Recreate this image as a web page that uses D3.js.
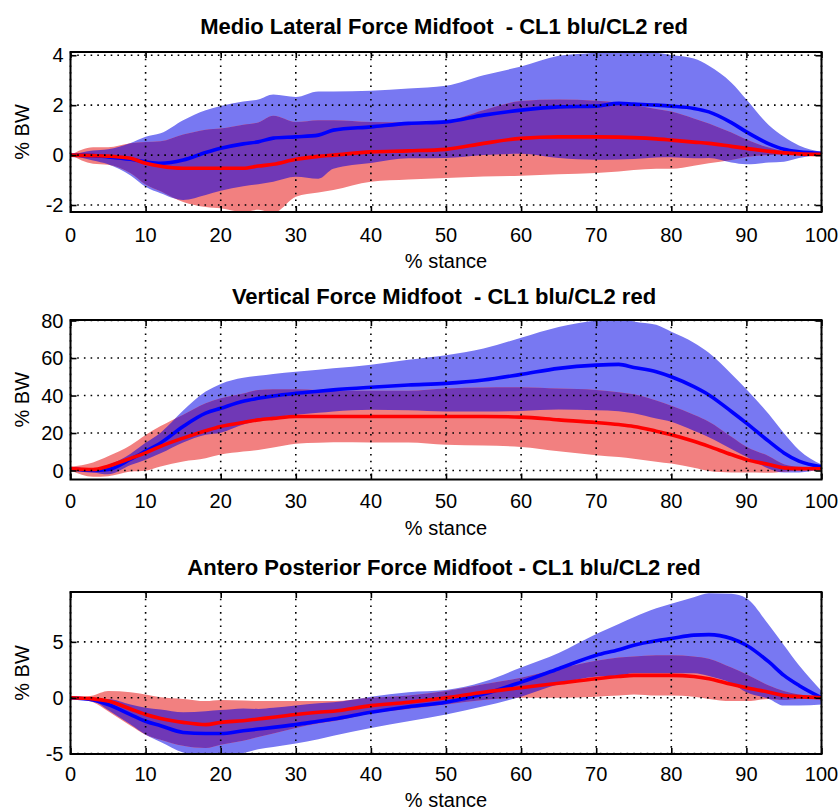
<!DOCTYPE html>
<html>
<head>
<meta charset="utf-8">
<script src="https://cdn.jsdelivr.net/npm/d3@7/dist/d3.min.js"></script>
<style>
  html, body { margin: 0; padding: 0; background: #fff; }
  svg { display: block; }
  text { font-family: "Liberation Sans", Arial, Helvetica, sans-serif; fill: #000; }
  .title { font-weight: bold; font-size: 22px; white-space: pre; }
  .tick { font-size: 20px; }
  .lab { font-size: 20px; white-space: pre; }
</style>
</head>
<body>
<svg id="chart" width="838" height="812"></svg>
<script>
// ---------- data ----------
const stance = [0,3,5,8,10,12,15,18,20,23,25,27,30,33,35,40,45,50,55,60,65,70,73,75,78,80,83,85,88,90,93,95,97,100];
const xTicks = [0,10,20,30,40,50,60,70,80,90,100];

// Medio Lateral
const mlBlueMean = [0,-0.02,-0.07,-0.17,-0.27,-0.33,-0.2,0.1,0.27,0.45,0.53,0.68,0.73,0.8,1.0,1.13,1.27,1.33,1.6,1.8,1.93,1.96,2.07,2.04,2.0,1.96,1.87,1.73,1.3,0.93,0.45,0.23,0.13,0.07];
const mlBlueSd   = [0,0.2,0.3,0.65,1.0,1.2,1.6,1.7,1.7,1.7,1.7,1.75,1.6,1.75,1.55,1.45,1.4,1.45,1.6,1.75,2.05,2.15,2.25,2.2,2.1,2.05,2.0,1.85,1.6,1.3,0.75,0.5,0.25,0.05];
const mlRedMean  = [0,-0.02,-0.04,-0.13,-0.33,-0.45,-0.53,-0.53,-0.53,-0.53,-0.44,-0.37,-0.17,-0.05,0,0.13,0.17,0.23,0.47,0.67,0.73,0.73,0.72,0.7,0.65,0.6,0.52,0.47,0.35,0.27,0.15,0.09,0.05,0.03];
const mlRedSd    = [0,0.33,0.35,0.6,0.85,1.0,1.35,1.55,1.6,1.75,1.75,1.95,1.5,1.45,1.4,1.2,1.15,1.15,1.33,1.5,1.5,1.45,1.38,1.3,1.2,1.15,0.95,0.8,0.55,0.35,0.15,0.07,0.04,0.03];
const mlYTicks = [-2,0,2,4];

// Vertical
const vBlueMean = [1,0,0.5,6,10.3,14.7,23.5,30.6,33.2,37,38.5,39.8,41.2,42.3,43,44.4,45.6,46.5,48.3,51.3,54.5,56.2,56.6,55,52.7,50,44.7,40.3,31.5,25.3,15.5,9.4,5,2];
const vBlueSd   = [0.5,1,2.5,3,4.5,5.5,8.5,11.5,13,12.5,12,11.7,11.5,11.5,11.5,12,13.5,15,16.8,19.5,22,24,25,24.5,25,24,23.5,22.5,20,18,14.5,10.5,6,1.2];
const vRedMean  = [1,0.5,2.3,6.5,9.4,12.9,17.3,21.2,23.5,25.6,27,27.8,28.8,28.8,28.8,28.8,28.8,28.8,28.8,28.5,27,25.6,24.5,23.5,21,19.1,15.6,12.9,8.5,5.8,3.2,1.4,1.0,0.9];
const vRedSd    = [1,3.8,5.3,7,9.5,10.8,12.5,14.7,15,15.5,16,15.5,14.5,14,13.7,13.8,13.8,15,15.5,15.9,16.7,17.4,17.3,17.2,16.3,15.4,14.1,13.1,9.5,6.9,4.4,2.0,1.0,0.5];
const vYTicks = [0,20,40,60,80];

// Antero Posterior
const apBlueMean = [0,-0.2,-0.6,-1.5,-2.1,-2.5,-3.1,-3.2,-3.2,-2.95,-2.8,-2.65,-2.4,-2.1,-1.9,-1.3,-0.8,-0.4,0.33,1.4,2.6,3.8,4.3,4.7,5.1,5.3,5.6,5.65,5.3,4.7,3.2,2.0,1.1,0];
const apBlueSd   = [0,0.1,0.5,0.9,1.2,1.45,1.8,2.0,2.1,2.0,1.8,1.75,1.7,1.6,1.5,1.4,1.3,1.1,1.1,1.3,1.4,1.9,2.3,2.5,2.9,3.1,3.4,3.7,4.0,4.2,3.3,2.7,1.8,0.6];
const apRedMean  = [0,-0.1,-0.3,-1.0,-1.5,-1.85,-2.2,-2.4,-2.2,-2.05,-1.9,-1.75,-1.5,-1.3,-1.2,-0.7,-0.4,0,0.5,0.9,1.3,1.7,1.9,2.0,2.0,2.0,1.9,1.7,1.2,0.9,0.5,0.2,0.1,0];
const apRedSd    = [0,0.3,0.9,1.5,1.8,1.9,2.1,2.1,2.0,1.8,1.6,1.45,1.2,1.0,0.9,0.7,0.6,0.6,0.7,0.9,1.3,1.6,1.7,1.7,1.8,1.8,1.8,1.8,1.5,1.2,0.6,0.4,0.2,0.1];
const apYTicks = [-5,0,5];

const titles = [
  "Medio Lateral Force Midfoot  - CL1 blu/CL2 red",
  "Vertical Force Midfoot  - CL1 blu/CL2 red",
  "Antero Posterior Force Midfoot - CL1 blu/CL2 red"
];
const yLabel = "% BW";
const xLabel = "% stance";

// ---------- layout ----------
const panels = [
  { title: titles[0], yDomain: [-2.28, 4.13], yTicks: mlYTicks, top: 52, bottom: 212,
    blueMean: mlBlueMean, blueSd: mlBlueSd, redMean: mlRedMean, redSd: mlRedSd,
    titleY: 34, tickY: 242, labelY: 268 },
  { title: titles[1], yDomain: [-4.8, 80.3], yTicks: vYTicks, top: 320, bottom: 479.5,
    blueMean: vBlueMean, blueSd: vBlueSd, redMean: vRedMean, redSd: vRedSd,
    titleY: 304, tickY: 508, labelY: 535 },
  { title: titles[2], yDomain: [-5.03, 9.46], yTicks: apYTicks, top: 592, bottom: 754,
    blueMean: apBlueMean, blueSd: apBlueSd, redMean: apRedMean, redSd: apRedSd,
    titleY: 575, tickY: 781, labelY: 807 }
];

const left = 70.5, right = 821.5;
const colors = { blueBand: "#7878f2", redBand: "#f28080", overlap: "#7038b6", blue: "#0000ff", red: "#ff0000" };

const svg = d3.select("#chart");
const x = d3.scaleLinear().domain([0, 100]).range([left, right]);

panels.forEach((p, i) => {
  const y = d3.scaleLinear().domain(p.yDomain).range([p.bottom, p.top]);
  const g = svg.append("g");
  const clipId = "plot" + i, blueClipId = "blue" + i;
  const defs = g.append("defs");
  defs.append("clipPath").attr("id", clipId).append("rect")
    .attr("x", left).attr("y", p.top).attr("width", right - left).attr("height", p.bottom - p.top);

  const rows = stance.map((s, k) => ({
    s, bm: p.blueMean[k], bs: p.blueSd[k], rm: p.redMean[k], rs: p.redSd[k]
  }));
  const curve = d3.curveMonotoneX;
  const blueArea = d3.area().curve(curve).x(d => x(d.s)).y0(d => y(d.bm - d.bs)).y1(d => y(d.bm + d.bs));
  const redArea = d3.area().curve(curve).x(d => x(d.s)).y0(d => y(d.rm - d.rs)).y1(d => y(d.rm + d.rs));
  const blueLine = d3.line().curve(curve).x(d => x(d.s)).y(d => y(d.bm));
  const redLine = d3.line().curve(curve).x(d => x(d.s)).y(d => y(d.rm));

  defs.append("clipPath").attr("id", blueClipId).append("path").attr("d", blueArea(rows));

  const plot = g.append("g").attr("clip-path", `url(#${clipId})`);
  plot.append("path").attr("d", blueArea(rows)).attr("fill", colors.blueBand);
  plot.append("path").attr("d", redArea(rows)).attr("fill", colors.redBand);
  plot.append("path").attr("d", redArea(rows)).attr("fill", colors.overlap).attr("clip-path", `url(#${blueClipId})`);

  // grid
  const grid = g.append("g").attr("stroke", "#000").attr("stroke-width", 1.6).attr("stroke-dasharray", "1.6,5.1");
  xTicks.forEach(t => grid.append("line").attr("x1", x(t)).attr("x2", x(t)).attr("y1", p.top).attr("y2", p.bottom));
  p.yTicks.forEach(t => grid.append("line").attr("x1", left).attr("x2", right).attr("y1", y(t)).attr("y2", y(t)));

  plot.append("path").attr("d", blueLine(rows)).attr("fill", "none").attr("stroke", colors.blue).attr("stroke-width", 3.6);
  plot.append("path").attr("d", redLine(rows)).attr("fill", "none").attr("stroke", colors.red).attr("stroke-width", 3.6);

  // axes (inward ticks, MATLAB box)
  const axB = d3.axisBottom(x).tickValues(xTicks).tickSize(-6).tickFormat("");
  const axT = d3.axisTop(x).tickValues(xTicks).tickSize(-6).tickFormat("");
  const axL = d3.axisLeft(y).tickValues(p.yTicks).tickSize(-6).tickFormat("");
  const axR = d3.axisRight(y).tickValues(p.yTicks).tickSize(-6).tickFormat("");
  [[axB, `translate(0,${p.bottom})`], [axT, `translate(0,${p.top})`], [axL, `translate(${left},0)`], [axR, `translate(${right},0)`]]
    .forEach(([ax, tr]) => {
      const a = g.append("g").attr("transform", tr).call(ax);
      a.select(".domain").remove();
      a.selectAll("line").attr("stroke", "#000").attr("stroke-width", 1.6);
    });
  g.append("rect").attr("x", left).attr("y", p.top).attr("width", right - left).attr("height", p.bottom - p.top)
    .attr("fill", "none").attr("stroke", "#000").attr("stroke-width", 2);

  // tick labels
  g.append("g").selectAll("text").data(xTicks).join("text").attr("class", "tick")
    .attr("x", d => x(d)).attr("y", p.tickY).attr("text-anchor", "middle").text(d => d);
  g.append("g").selectAll("text").data(p.yTicks).join("text").attr("class", "tick")
    .attr("x", left - 7).attr("y", d => y(d)).attr("dy", "0.36em").attr("text-anchor", "end").text(d => d);

  // labels
  g.append("text").attr("class", "title").attr("x", 444).attr("y", p.titleY).attr("text-anchor", "middle").text(p.title);
  g.append("text").attr("class", "lab").attr("x", 446).attr("y", p.labelY).attr("text-anchor", "middle").text(xLabel);
  g.append("text").attr("class", "lab").attr("text-anchor", "middle")
    .attr("transform", `translate(29,${(p.top + p.bottom) / 2}) rotate(-90)`).text(yLabel);
});
</script>
</body>
</html>
